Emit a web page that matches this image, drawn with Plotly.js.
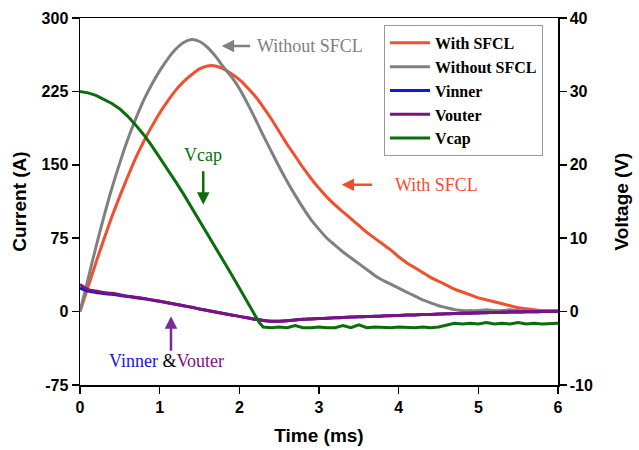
<!DOCTYPE html>
<html>
<head>
<meta charset="utf-8">
<script src="https://cdn.plot.ly/plotly-3.0.1.min.js"></script>
<style>
  html, body { margin: 0; padding: 0; background: #fff; }
  #chart { width: 639px; height: 450px; }
</style>
</head>
<body>
<div id="chart"></div>
<script>
// Time base (ms) shared by the current traces and the coil voltages
const timeMs = [
  0.0, 0.1, 0.2, 0.3, 0.4, 0.5, 0.6, 0.7, 0.8, 0.9,
  1.0, 1.1, 1.2, 1.3, 1.4, 1.5, 1.6, 1.7, 1.8, 1.9,
  2.0, 2.1, 2.2, 2.3, 2.4, 2.5, 2.6, 2.7, 2.8, 2.9,
  3.0, 3.1, 3.2, 3.3, 3.4, 3.5, 3.6, 3.7, 3.8, 3.9,
  4.0, 4.1, 4.2, 4.3, 4.4, 4.5, 4.6, 4.7, 4.8, 4.9,
  5.0, 5.1, 5.2, 5.3, 5.4, 5.5, 5.6, 5.7, 5.8, 5.9, 6.0
];

// Fault current with the limiter in circuit (A)
const currentWithSFCL = [
  0, 25, 50, 74, 97, 118, 138, 157, 174, 189,
  203, 215, 226, 235, 242, 248, 251, 251, 248, 243,
  237, 229, 220, 209, 197, 184, 171, 159, 147, 136,
  126, 117, 109, 102, 95, 88, 81, 75, 69, 63,
  56, 50, 45, 40, 35, 31, 27, 23, 20, 17,
  14, 12, 10, 8, 6, 4, 3, 2, 1, 1, 1
];

// Fault current without the limiter (A)
const currentWithoutSFCL = [
  0, 33, 66, 97, 126, 152, 176, 197, 216, 232,
  246, 258, 268, 275, 278, 276, 270, 261, 250, 240,
  228, 213, 197, 180, 164, 148, 133, 119, 106, 94,
  84, 75, 68, 61, 55, 49, 43, 37, 32, 28,
  24, 20, 16, 12, 9, 6, 4, 2, 1, 1,
  1, 2, 1, 1, 2, 1, 1, 1, 1, 1, 1
];

// Inner coil voltage (V)
const vInner = [
  3.2, 2.8, 2.6, 2.45, 2.35, 2.2, 2.05, 1.9, 1.75, 1.58,
  1.4, 1.2, 1.0, 0.8, 0.6, 0.35, 0.15, -0.05, -0.25, -0.45,
  -0.65, -0.85, -1.05, -1.2, -1.3, -1.3, -1.25, -1.15, -1.05, -1.0,
  -0.95, -0.9, -0.85, -0.8, -0.75, -0.71, -0.68, -0.64, -0.6, -0.56,
  -0.52, -0.48, -0.45, -0.41, -0.38, -0.34, -0.3, -0.27, -0.24, -0.21,
  -0.18, -0.15, -0.12, -0.1, -0.07, -0.05, -0.03, -0.01, 0.0, 0.0, 0.0
];

// Outer coil voltage (V)
const vOuter = [
  3.7, 3.0, 2.8, 2.6, 2.5, 2.3, 2.1, 1.95, 1.8, 1.6,
  1.4, 1.2, 1.0, 0.8, 0.6, 0.35, 0.15, -0.05, -0.25, -0.45,
  -0.65, -0.85, -1.05, -1.2, -1.3, -1.3, -1.25, -1.15, -1.05, -1.0,
  -0.95, -0.9, -0.85, -0.8, -0.75, -0.71, -0.68, -0.64, -0.6, -0.56,
  -0.52, -0.48, -0.45, -0.41, -0.38, -0.34, -0.3, -0.27, -0.24, -0.21,
  -0.18, -0.15, -0.12, -0.1, -0.07, -0.05, -0.03, -0.01, 0.0, 0.0, 0.0
];

// Capacitor bank voltage (V), with its own time base around the knee
const timeCap = [
  0.0, 0.1, 0.2, 0.3, 0.4, 0.5, 0.6, 0.7, 0.8, 0.9,
  1.0, 1.1, 1.2, 1.3, 1.4, 1.5, 1.6, 1.7, 1.8, 1.9,
  2.0, 2.1, 2.2, 2.25, 2.3, 2.4, 2.5, 2.6, 2.7, 2.8, 2.9,
  3.0, 3.1, 3.2, 3.3, 3.4, 3.5, 3.6, 3.7, 3.8, 3.9,
  4.0, 4.1, 4.2, 4.3, 4.4, 4.5, 4.6, 4.7, 4.8, 4.9,
  5.0, 5.1, 5.2, 5.3, 5.4, 5.5, 5.6, 5.7, 5.8, 5.9, 6.0
];
const vCap = [
  30.0, 29.8, 29.45, 28.95, 28.35, 27.6, 26.6, 25.4, 24.1, 22.6,
  21.0, 19.4, 17.7, 16.0, 14.2, 12.4, 10.6, 8.8, 7.0, 5.1,
  3.2, 1.3, -0.6, -1.5, -2.1, -2.2, -2.1, -2.2, -1.9, -2.2, -2.2,
  -2.1, -2.2, -2.2, -1.9, -2.2, -1.8, -2.2, -2.1, -2.2, -2.2,
  -2.1, -2.2, -2.2, -2.1, -2.2, -2.1, -1.9, -1.6, -1.7, -1.6,
  -1.7, -1.5, -1.7, -1.6, -1.7, -1.5, -1.7, -1.6, -1.7, -1.6, -1.6
];

const xTicks = [0, 1, 2, 3, 4, 5, 6];
const currentTicks = [-75, 0, 75, 150, 225, 300];
const voltageTicks = [-10, 0, 10, 20, 30, 40];

const colors = {
  withSFCL: '#f0502d',
  withoutSFCL: '#808080',
  vinner: '#1515e0',
  vouter: '#7d127d',
  vcap: '#0b6e0b'
};

const lineWidth = 3;
const smoothLine = (color) => ({ color: color, width: lineWidth, shape: 'spline', smoothing: 0.8 });

const traces = [
  { x: timeMs, y: currentWithSFCL, name: 'With SFCL', yaxis: 'y',
    mode: 'lines', line: smoothLine(colors.withSFCL) },
  { x: timeMs, y: currentWithoutSFCL, name: 'Without SFCL', yaxis: 'y',
    mode: 'lines', line: smoothLine(colors.withoutSFCL) },
  { x: timeMs, y: vInner, name: 'Vinner', yaxis: 'y2',
    mode: 'lines', line: smoothLine(colors.vinner) },
  { x: timeMs, y: vOuter, name: 'Vouter', yaxis: 'y2',
    mode: 'lines', line: smoothLine(colors.vouter) },
  { x: timeCap, y: vCap, name: 'Vcap', yaxis: 'y2',
    mode: 'lines', line: { color: colors.vcap, width: lineWidth } }
];

const tickFont = { family: 'Liberation Sans, Arial, sans-serif', size: 16, color: '#000', weight: 'bold' };
const titleFont = { family: 'Liberation Sans, Arial, sans-serif', size: 19, color: '#000', weight: 'bold' };
const noteFont = { family: 'Liberation Serif, Times New Roman, serif', size: 18 };

const layout = {
  width: 639,
  height: 450,
  margin: { l: 80, r: 81, t: 18, b: 65 },
  paper_bgcolor: '#fff',
  plot_bgcolor: '#fff',
  showlegend: true,
  legend: {
    x: 0.636, y: 0.981, xanchor: 'left', yanchor: 'top',
    bgcolor: '#fff', bordercolor: '#999', borderwidth: 1,
    font: { family: 'Liberation Serif, Times New Roman, serif', size: 16, color: '#000', weight: 'bold' },
    itemwidth: 40,
    tracegroupgap: 0
  },
  xaxis: {
    range: [0, 6], tickvals: xTicks, ticktext: xTicks.map(String),
    showgrid: false, zeroline: false,
    showline: true, linecolor: '#000', linewidth: 1.5, mirror: true,
    ticks: 'outside', ticklen: 7, tickwidth: 1.5, tickcolor: '#000',
    tickfont: tickFont,
    title: { text: 'Time (ms)', font: titleFont, standoff: 14 }
  },
  yaxis: {
    range: [-75, 300], tickvals: currentTicks, ticktext: currentTicks.map(String),
    showgrid: false, zeroline: false,
    showline: true, linecolor: '#000', linewidth: 1.5,
    ticks: 'outside', ticklen: 7, tickwidth: 1.5, tickcolor: '#000',
    tickfont: tickFont,
    title: { text: 'Current (A)', font: titleFont, standoff: 10 }
  },
  yaxis2: {
    range: [-10, 40], tickvals: voltageTicks, ticktext: voltageTicks.map(String),
    overlaying: 'y', side: 'right',
    showgrid: false, zeroline: false,
    showline: true, linecolor: '#000', linewidth: 1.5,
    ticks: 'outside', ticklen: 7, tickwidth: 1.5, tickcolor: '#000',
    tickfont: tickFont,
    title: { text: 'Voltage (V)', font: titleFont, standoff: 23 }
  },
  annotations: [
    // "Without SFCL" label and its arrow
    { x: 1.778, y: 271.4, xref: 'x', yref: 'y', text: '', showarrow: true,
      ax: 30, ay: 0, arrowhead: 2, arrowsize: 1, arrowwidth: 2.5, arrowcolor: colors.withoutSFCL },
    { x: 2.196, y: 271.4, xref: 'x', yref: 'y', text: 'Without SFCL', showarrow: false,
      xanchor: 'left', yanchor: 'middle', font: Object.assign({ color: colors.withoutSFCL }, noteFont) },
    // "With SFCL" label and its arrow
    { x: 3.283, y: 129.6, xref: 'x', yref: 'y', text: '', showarrow: true,
      ax: 32, ay: 0, arrowhead: 2, arrowsize: 1, arrowwidth: 2.5, arrowcolor: colors.withSFCL },
    { x: 3.927, y: 129.6, xref: 'x', yref: 'y', text: 'With SFCL', showarrow: false,
      xanchor: 'left', yanchor: 'middle', font: Object.assign({ color: colors.withSFCL }, noteFont) },
    // "Vcap" label and its arrow
    { x: 1.547, y: 160.2, xref: 'x', yref: 'y', text: 'Vcap', showarrow: false,
      xanchor: 'center', yanchor: 'middle', font: Object.assign({ color: colors.vcap }, noteFont) },
    { x: 1.547, y: 109.2, xref: 'x', yref: 'y', text: '', showarrow: true,
      ax: 0, ay: -35, arrowhead: 2, arrowsize: 1, arrowwidth: 2.5, arrowcolor: colors.vcap },
    // "Vinner & Vouter" label and its arrow
    { x: 0.335, y: -50.7, xref: 'x', yref: 'y', showarrow: false,
      text: '<span style="color:' + colors.vinner + '">Vinner</span> <span style="color:#000">&amp;</span><span style="color:' + colors.vouter + '">Vouter</span>',
      xanchor: 'left', yanchor: 'middle', font: noteFont },
    { x: 1.142, y: -4.8, xref: 'x', yref: 'y', text: '', showarrow: true,
      ax: 0, ay: 36, arrowhead: 2, arrowsize: 1, arrowwidth: 2.5, arrowcolor: '#7a2a9a' }
  ]
};

Plotly.newPlot('chart', traces, layout, { displayModeBar: false, staticPlot: true });
</script>
</body>
</html>
